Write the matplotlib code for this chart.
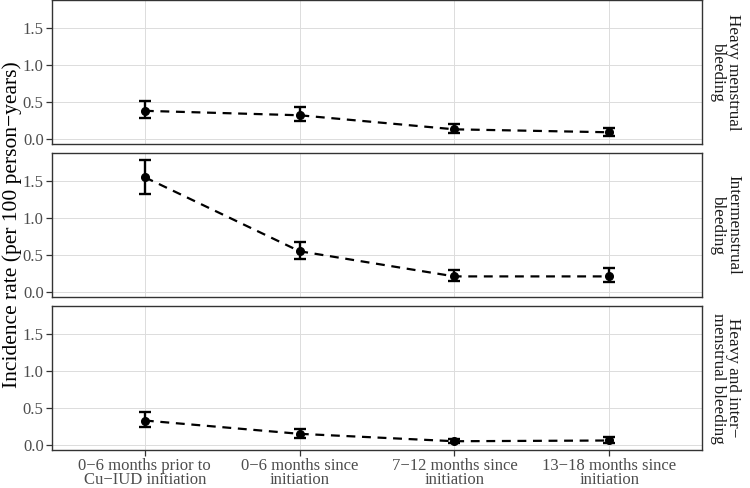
import numpy as np
import matplotlib
matplotlib.use('Agg')
import matplotlib.pyplot as plt

plt.rcParams['font.family'] = ['Liberation Serif', 'DejaVu Serif']

# region Data
periods = ['0\u22126 months prior to\nCu\u2212IUD initiation',
           '0\u22126 months since\ninitiation',
           '7\u221212 months since\ninitiation',
           '13\u221218 months since\ninitiation']
outcomes = ['Heavy menstrual\nbleeding',
            'Intermenstrual\nbleeding',
            'Heavy and inter\u2212\nmenstrual bleeding']
rate_heavy = [0.38, 0.32, 0.13, 0.09]
low_heavy = [0.28, 0.24, 0.08, 0.04]
high_heavy = [0.51, 0.43, 0.20, 0.15]
rate_inter = [1.55, 0.55, 0.21, 0.21]
low_inter = [1.33, 0.44, 0.15, 0.13]
high_inter = [1.79, 0.68, 0.30, 0.32]
rate_both = [0.33, 0.15, 0.05, 0.06]
low_both = [0.24, 0.10, 0.02, 0.03]
high_both = [0.45, 0.21, 0.08, 0.11]
# endregion

rates = [rate_heavy, rate_inter, rate_both]
lows = [low_heavy, low_inter, low_both]
highs = [high_heavy, high_inter, high_both]

fig = plt.figure(figsize=(7.5, 4.88), dpi=100)
W, H = 750, 488
left, right = 52, 702
panels = [(0, 144), (153, 297), (306, 450)]

x = np.arange(1, len(periods) + 1)
all_lo = min(min(l) for l in lows)
all_hi = max(max(h) for h in highs)
pad = 0.05 * (all_hi - all_lo)

for i, (top, bot) in enumerate(panels):
    ax = fig.add_axes([left / W, 1 - bot / H, (right - left) / W, (bot - top) / H])
    r = np.array(rates[i])
    lo = np.array(lows[i])
    hi = np.array(highs[i])
    ax.plot(x, r, color='black', linestyle=(0, (4, 3)), linewidth=1.6, zorder=3)
    ax.errorbar(x, r, yerr=[r - lo, hi - r], fmt='o', color='black',
                markersize=5.5, elinewidth=1.7, capsize=4, capthick=1.7, zorder=4)
    ax.set_xlim(0.4, 4.6)
    ax.set_ylim(all_lo - pad, all_hi + pad)
    ax.set_yticks([0.0, 0.5, 1.0, 1.5])
    ax.set_yticklabels(['0.0', '0.5', '1.0', '1.5'])
    ax.set_xticks(x)
    ax.grid(True, color='#dcdcdc', linewidth=0.7)
    ax.set_axisbelow(True)
    for s in ax.spines.values():
        s.set_color('#333333')
        s.set_linewidth(1.0)
    ax.tick_params(axis='both', color='#333333', length=4, labelsize=12,
                   labelcolor='#4d4d4d', width=0.9, pad=2)
    if i < 2:
        ax.set_xticklabels([])
        ax.tick_params(axis='x', length=0)
    else:
        ax.set_xticklabels(periods, fontsize=12, linespacing=0.9)
        ax.tick_params(axis='x', pad=1.5)
    ax.text(1.012, 0.5, outcomes[i], transform=ax.transAxes, rotation=-90,
            ha='left', va='center', fontsize=12.3, color='#1a1a1a',
            multialignment='center', linespacing=0.95)

fig.text(12 / W, 1 - 225 / H, 'Incidence rate (per 100 person\u2212years)',
         rotation=90, ha='center', va='center', fontsize=15.5)

fig.savefig('out.png', dpi=100)
